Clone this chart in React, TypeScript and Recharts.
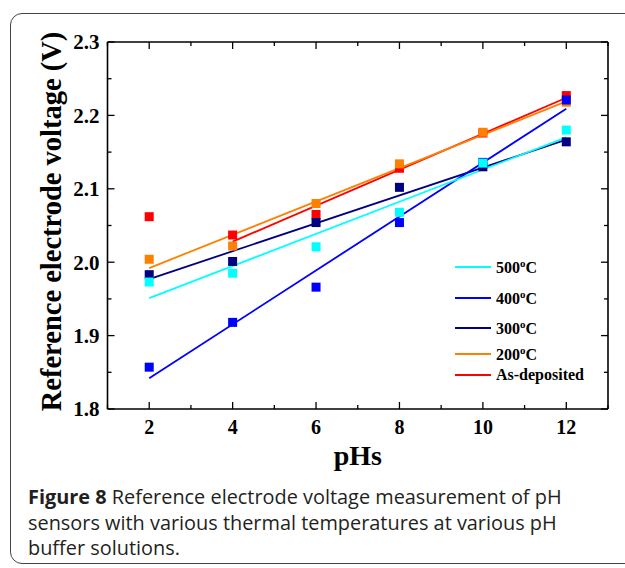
import { ComposedChart, Scatter, Line, XAxis, YAxis, Legend, ReferenceLine } from "recharts";

// pH buffer values (x) and measured reference electrode voltage (V)
const PH = [2, 4, 6, 8, 10, 12];
const V_500 = [1.973, 1.985, 2.021, 2.068, 2.135, 2.18];
const V_400 = [1.857, 1.918, 1.966, 2.054, 2.136, 2.221];
const V_300 = [1.983, 2.001, 2.054, 2.102, 2.13, 2.164];
const V_200 = [2.004, 2.022, 2.08, 2.134, 2.177, 2.218];
const V_ASDEP = [2.062, 2.037, 2.065, 2.128, 2.176, 2.227];

// linear fit end points
const FIT_X = [2, 12];
const FIT_X_ASDEP = [4, 12];
const FIT_500 = [1.951, 2.17];
const FIT_400 = [1.842, 2.209];
const FIT_300 = [1.977, 2.167];
const FIT_200 = [1.992, 2.219];
const FIT_ASDEP = [2.028, 2.224];

const X_TICKS = [2, 4, 6, 8, 10, 12];
const X_MINOR = [1, 3, 5, 7, 9, 11, 13];
const Y_TICKS = [1.8, 1.9, 2.0, 2.1, 2.2, 2.3];
const Y_MINOR = [1.85, 1.95, 2.05, 2.15, 2.25];

const toPoints = (xs: number[], ys: number[]) => ys.map((y, i) => ({ x: xs[i], y }));

// legend order (top to bottom)
const SERIES = [
  { temp: "500", color: "#00ffff", pts: V_500, fitX: FIT_X, fit: FIT_500 },
  { temp: "400", color: "#0000ff", pts: V_400, fitX: FIT_X, fit: FIT_400 },
  { temp: "300", color: "#000080", pts: V_300, fitX: FIT_X, fit: FIT_300 },
  { temp: "200", color: "#ff8000", pts: V_200, fitX: FIT_X, fit: FIT_200 },
  { temp: "", color: "#ff0000", pts: V_ASDEP, fitX: FIT_X_ASDEP, fit: FIT_ASDEP },
];

const SERIF = "'Liberation Serif', 'Times New Roman', serif";
const SANS = "'Open Sans', 'Noto Sans', sans-serif";

// chart layout
const W = 625;
const H = 480;
const MARGIN = { top: 42, right: 17, bottom: 11, left: 30 };
const Y_AXIS_W = 77.5;
const X_AXIS_H = 60;
const PLOT_LEFT = MARGIN.left + Y_AXIS_W;
const PLOT_RIGHT = W - MARGIN.right;
const PLOT_TOP = MARGIN.top;
const PLOT_BOTTOM = H - MARGIN.bottom - X_AXIS_H;
const X_TICK_GAP = 11;

const tickStroke = { stroke: "#000", strokeWidth: 1.3 };

// inward ticks on bottom + top, labels on majors only
const XTick = (props: any) => {
  const { x, y, payload } = props;
  const major = X_TICKS.includes(payload.value);
  const len = major ? 7 : 4;
  return (
    <g>
      <line x1={x} x2={x} y1={PLOT_BOTTOM} y2={PLOT_BOTTOM - len} {...tickStroke} />
      <line x1={x} x2={x} y1={PLOT_TOP} y2={PLOT_TOP + len} {...tickStroke} />
      {major && (
        <text x={x} y={y} dy="0.71em" textAnchor="middle" fontFamily={SERIF} fontWeight="bold" fontSize={20} fill="#000">
          {payload.value}
        </text>
      )}
    </g>
  );
};

// inward ticks on left + right
const YTick = (props: any) => {
  const { x, y, payload } = props;
  const major = Y_TICKS.some((t) => Math.abs(t - payload.value) < 1e-9);
  const len = major ? 7 : 4;
  return (
    <g>
      <line x1={PLOT_LEFT} x2={PLOT_LEFT + len} y1={y} y2={y} {...tickStroke} />
      <line x1={PLOT_RIGHT} x2={PLOT_RIGHT - len} y1={y} y2={y} {...tickStroke} />
      {major && (
        <text x={x} y={y} dy="0.355em" textAnchor="end" fontFamily={SERIF} fontWeight="bold" fontSize={21} fill="#000">
          {payload.value.toFixed(1)}
        </text>
      )}
    </g>
  );
};

const Square = (props: any) => {
  const { cx, cy, fill } = props;
  if (cx == null || cy == null) return <g />;
  return <rect x={cx - 4.5} y={cy - 4.5} width={9} height={9} fill={fill} />;
};

const YLabel = (props: any) => {
  const { x, y, height } = props.viewBox;
  const cx = x + 21;
  const cy = y + height / 2 - 4;
  return (
    <text
      x={cx}
      y={cy}
      transform={`rotate(-90, ${cx}, ${cy})`}
      textAnchor="middle"
      dominantBaseline="central"
      fontFamily={SERIF}
      fontWeight="bold"
      fontSize={28.5}
      fill="#000"
    >
      Reference electrode voltage (V)
    </text>
  );
};

const XLabel = (props: any) => {
  const { x, y, width } = props.viewBox;
  return (
    <text x={x + width / 2} y={y + 56} textAnchor="middle" fontFamily={SERIF} fontWeight="bold" fontSize={28} fill="#000">
      pHs
    </text>
  );
};

const LegendBox = () => (
  <div style={{ fontFamily: SERIF, fontWeight: "bold", fontSize: 16, color: "#000" }}>
    {SERIES.map((s, i) => (
      <div key={i} style={{ display: "flex", alignItems: "center", height: i < 3 ? 30.5 : 21 }}>
        <svg width={36} height={4} style={{ marginRight: 5 }}>
          <line x1={0} y1={2} x2={36} y2={2} stroke={s.color} strokeWidth={2} />
        </svg>
        {s.temp ? (
          <span>
            {s.temp}
            <sup style={{ fontSize: 11 }}>o</sup>C
          </span>
        ) : (
          <span>As-deposited</span>
        )}
      </div>
    ))}
  </div>
);

const axisLine = { stroke: "#000", strokeWidth: 1.6 };

export default function App() {
  const draw = [...SERIES].reverse();
  const xAll = [...X_TICKS, ...X_MINOR].sort((a, b) => a - b);
  const yAll = [...Y_TICKS, ...Y_MINOR].sort((a, b) => a - b);
  return (
    <div style={{ position: "absolute", left: 0, top: 0, width: 625, height: 568, background: "#fff", overflow: "hidden" }}>
      <div
        style={{
          position: "absolute",
          left: 10,
          top: 13,
          width: 660,
          height: 551,
          border: "1.5px solid #444",
          borderRadius: 12,
          boxSizing: "border-box",
        }}
      />
      <div style={{ position: "absolute", left: 0, top: 0 }}>
        <ComposedChart width={W} height={H} margin={MARGIN}>
          <XAxis
            dataKey="x"
            type="number"
            domain={[1, 13]}
            ticks={xAll}
            interval={0}
            tickLine={false}
            tickSize={0}
            tickMargin={X_TICK_GAP}
            height={X_AXIS_H}
            axisLine={axisLine}
            tick={<XTick />}
            label={<XLabel />}
          />
          <YAxis
            dataKey="y"
            type="number"
            domain={[1.8, 2.3]}
            ticks={yAll}
            interval={0}
            tickLine={false}
            tickSize={0}
            tickMargin={8}
            width={Y_AXIS_W}
            axisLine={axisLine}
            tick={<YTick />}
            label={<YLabel />}
          />
          {/* closing frame on top and right */}
          <ReferenceLine y={2.3} stroke="#000" strokeWidth={1.6} />
          <ReferenceLine x={13} stroke="#000" strokeWidth={1.6} />

          {draw.map((s) => (
            <Line
              key={"fit" + s.color}
              data={toPoints(s.fitX, s.fit)}
              dataKey="y"
              stroke={s.color}
              strokeWidth={1.8}
              dot={false}
              activeDot={false}
              legendType="none"
              isAnimationActive={false}
            />
          ))}
          {draw.map((s) => (
            <Scatter
              key={"pts" + s.color}
              data={toPoints(PH, s.pts)}
              fill={s.color}
              shape={<Square />}
              legendType="none"
              isAnimationActive={false}
            />
          ))}
          <Legend
            layout="vertical"
            align="center"
            verticalAlign="middle"
            content={<LegendBox />}
            wrapperStyle={{ left: 455, top: 252, width: 160, bottom: "auto", right: "auto" }}
          />
        </ComposedChart>
      </div>
      <div
        style={{
          position: "absolute",
          left: 28,
          top: 484,
          width: 580,
          fontFamily: SANS,
          fontSize: 19.9,
          lineHeight: "25.5px",
          color: "#231f20",
        }}
      >
        <b>Figure 8</b> Reference electrode voltage measurement of pH sensors with various thermal temperatures at various pH
        buffer solutions.
      </div>
    </div>
  );
}
